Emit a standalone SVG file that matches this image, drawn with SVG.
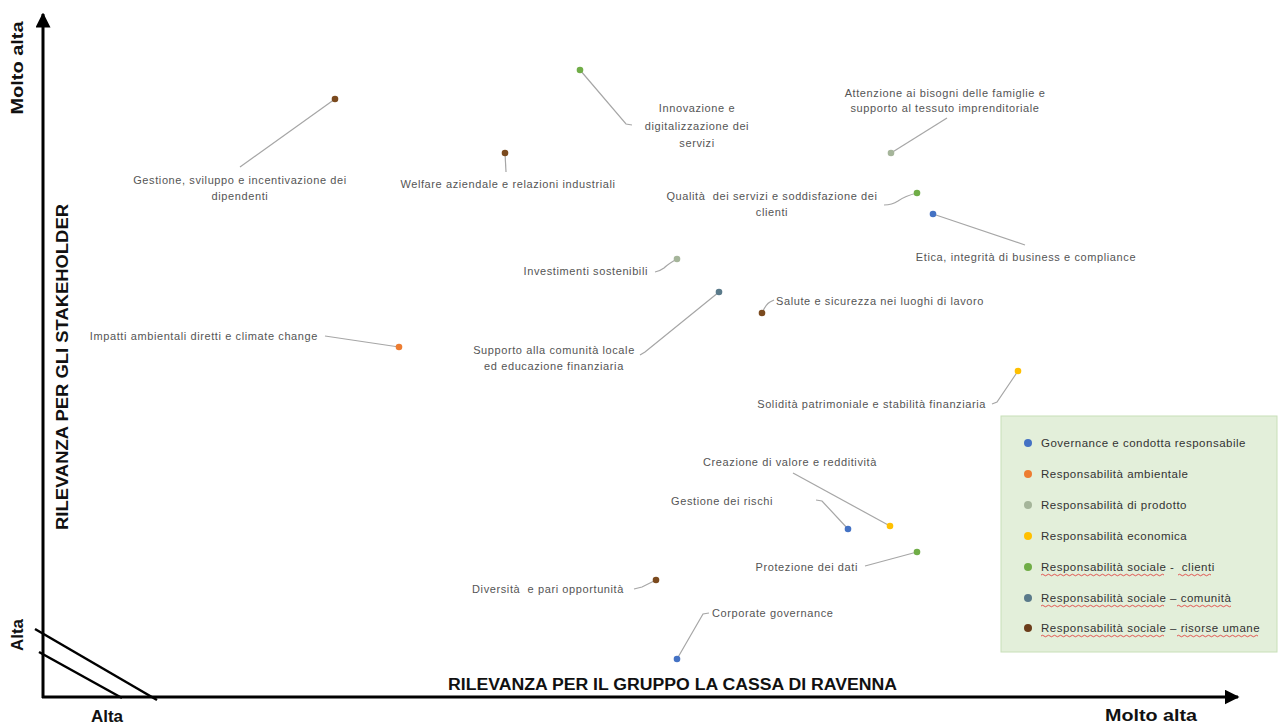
<svg xmlns="http://www.w3.org/2000/svg" width="1278" height="725" viewBox="0 0 1278 725">
<defs>
<marker id="arr" viewBox="0 0 10 10" refX="9" refY="5" markerWidth="5" markerHeight="5" orient="auto" markerUnits="strokeWidth">
<path d="M0,0 L10,5 L0,10 z" fill="#000"/>
</marker>
<style>
.lbl{font-family:"Liberation Sans",Arial,sans-serif;font-size:11px;letter-spacing:0.6px;fill:#555}
.ax{font-family:"Liberation Sans",Arial,sans-serif;font-weight:bold;fill:#111}
.conn line,.conn path{stroke:#a6a6a6;stroke-width:1.2;fill:none}
.leg{font-family:"Liberation Sans",Arial,sans-serif;font-size:11.5px;letter-spacing:0.5px;fill:#333}
.wavy{stroke:#e03030;stroke-width:0.8;fill:none}
</style>
</defs>
<rect width="1278" height="725" fill="#fff"/>

<!-- axes -->
<g id="axes" stroke="#000" stroke-width="3" fill="none">
<line x1="43" y1="698" x2="43" y2="14" marker-end="url(#arr)"/>
<line x1="42" y1="697" x2="1238" y2="697" marker-end="url(#arr)"/>
<line x1="35" y1="629" x2="157" y2="700" stroke-width="2.5"/>
<line x1="39" y1="652" x2="122" y2="698" stroke-width="2.5"/>
</g>
<text class="ax" font-size="17" transform="translate(23,68) rotate(-90)" text-anchor="middle" textLength="93" lengthAdjust="spacingAndGlyphs">Molto alta</text>
<text class="ax" font-size="17" transform="translate(23,635) rotate(-90)" text-anchor="middle">Alta</text>
<text class="ax" font-size="16" transform="translate(68,367) rotate(-90)" text-anchor="middle" textLength="326" lengthAdjust="spacingAndGlyphs">RILEVANZA PER GLI STAKEHOLDER</text>
<text class="ax" font-size="17" x="107" y="722" text-anchor="middle">Alta</text>
<text class="ax" font-size="17" x="1151" y="721" text-anchor="middle" textLength="92" lengthAdjust="spacingAndGlyphs">Molto alta</text>
<text class="ax" font-size="16" x="448" y="690" textLength="449" lengthAdjust="spacingAndGlyphs">RILEVANZA PER IL GRUPPO LA CASSA DI RAVENNA</text>

<!-- connectors -->
<g class="conn" id="connectors">
<line x1="335" y1="99" x2="240" y2="167"/>
<line x1="505" y1="153" x2="506" y2="172"/>
<path d="M580,70 L626,124 L632,125"/>
<line x1="891" y1="153" x2="947" y2="118"/>
<path d="M917,193 Q905,196 898,201 Q892,205 884,205"/>
<line x1="933" y1="214" x2="1025" y2="245"/>
<path d="M677,259 Q668,264 664,268 Q660,271 655,272"/>
<path d="M719,292 L645,352 L640,355"/>
<path d="M762,313 Q766,304 770,302 L774,300"/>
<line x1="325" y1="336" x2="399" y2="347"/>
<path d="M1018,371 L997,402 L992,404"/>
<line x1="890" y1="526" x2="793" y2="473"/>
<path d="M848,529 L822,501 L816,500"/>
<line x1="917" y1="552" x2="865" y2="566"/>
<path d="M656,580 Q648,584 642,587 L634,589"/>
<path d="M677,659 L703,614 L709,613"/>
</g>

<!-- nodes -->
<g id="n1"><circle cx="335" cy="99" r="3.3" fill="#7b4a1e"/>
<text class="lbl" x="240" y="184" text-anchor="middle">Gestione, sviluppo e incentivazione dei</text>
<text class="lbl" x="240" y="200" text-anchor="middle">dipendenti</text></g>
<g id="n2"><circle cx="505" cy="153" r="3.3" fill="#7b4a1e"/>
<text class="lbl" x="508" y="188" text-anchor="middle">Welfare aziendale e relazioni industriali</text></g>
<g id="n3"><circle cx="580" cy="70" r="3.3" fill="#70ad47"/>
<text class="lbl" x="697" y="112" text-anchor="middle">Innovazione e</text>
<text class="lbl" x="697" y="130" text-anchor="middle">digitalizzazione dei</text>
<text class="lbl" x="697" y="147" text-anchor="middle">servizi</text></g>
<g id="n4"><circle cx="891" cy="153" r="3.3" fill="#a5b59a"/>
<text class="lbl" x="945" y="97" text-anchor="middle">Attenzione ai bisogni delle famiglie e</text>
<text class="lbl" x="945" y="112" text-anchor="middle">supporto al tessuto imprenditoriale</text></g>
<g id="n5"><circle cx="917" cy="193" r="3.3" fill="#70ad47"/>
<text class="lbl" x="772" y="200" text-anchor="middle" xml:space="preserve">Qualità  dei servizi e soddisfazione dei</text>
<text class="lbl" x="772" y="216" text-anchor="middle">clienti</text></g>
<g id="n6"><circle cx="933" cy="214" r="3.3" fill="#4472c4"/>
<text class="lbl" x="1026" y="261" text-anchor="middle">Etica, integrità di business e compliance</text></g>
<g id="n7"><circle cx="677" cy="259" r="3.3" fill="#a5b59a"/>
<text class="lbl" x="648" y="275" text-anchor="end">Investimenti sostenibili</text></g>
<g id="n8"><circle cx="719" cy="292" r="3.3" fill="#5a7a8a"/>
<text class="lbl" x="554" y="354" text-anchor="middle">Supporto alla comunità locale</text>
<text class="lbl" x="554" y="370" text-anchor="middle">ed educazione finanziaria</text></g>
<g id="n9"><circle cx="762" cy="313" r="3.3" fill="#7b4a1e"/>
<text class="lbl" x="776" y="305">Salute e sicurezza nei luoghi di lavoro</text></g>
<g id="n10"><circle cx="399" cy="347" r="3.3" fill="#ed7d31"/>
<text class="lbl" x="318" y="340" text-anchor="end">Impatti ambientali diretti e climate change</text></g>
<g id="n11"><circle cx="1018" cy="371" r="3.3" fill="#ffc000"/>
<text class="lbl" x="986" y="408" text-anchor="end">Solidità patrimoniale e stabilità finanziaria</text></g>
<g id="n12"><circle cx="890" cy="526" r="3.3" fill="#ffc000"/>
<text class="lbl" x="790" y="466" text-anchor="middle">Creazione di valore e redditività</text></g>
<g id="n13"><circle cx="848" cy="529" r="3.3" fill="#4472c4"/>
<text class="lbl" x="773" y="505" text-anchor="end">Gestione dei rischi</text></g>
<g id="n14"><circle cx="917" cy="552" r="3.3" fill="#70ad47"/>
<text class="lbl" x="858" y="571" text-anchor="end">Protezione dei dati</text></g>
<g id="n15"><circle cx="656" cy="580" r="3.3" fill="#7b4a1e"/>
<text class="lbl" x="624" y="593" text-anchor="end" xml:space="preserve">Diversità  e pari opportunità</text></g>
<g id="n16"><circle cx="677" cy="659" r="3.3" fill="#4472c4"/>
<text class="lbl" x="712" y="617">Corporate governance</text></g>

<!-- legend -->
<g id="legend">
<rect x="1001" y="416" width="276" height="236" fill="#e3efda" stroke="#c8dfb8" stroke-width="1"/>
<circle cx="1028" cy="443" r="4" fill="#4472c4"/>
<text class="leg" x="1041" y="447">Governance e condotta responsabile</text>
<circle cx="1028" cy="474" r="4" fill="#ed7d31"/>
<text class="leg" x="1041" y="478">Responsabilità ambientale</text>
<circle cx="1028" cy="505" r="4" fill="#a5b59a"/>
<text class="leg" x="1041" y="509">Responsabilità di prodotto</text>
<circle cx="1028" cy="536" r="4" fill="#ffc000"/>
<text class="leg" x="1041" y="540">Responsabilità economica</text>
<circle cx="1028" cy="567" r="4" fill="#70ad47"/>
<text class="leg" x="1041" y="571" xml:space="preserve">Responsabilità sociale -  clienti</text>
<circle cx="1028" cy="598" r="4" fill="#5a7a8a"/>
<text class="leg" x="1041" y="602">Responsabilità sociale – comunità</text>
<circle cx="1028" cy="628" r="4" fill="#6b3d1a"/>
<text class="leg" x="1041" y="632">Responsabilità sociale – risorse umane</text>
<path class="wavy" d="M1041,575 q1.5,-1.5 3,0 t3,0 t3,0 t3,0 t3,0 t3,0 t3,0 t3,0 t3,0 t3,0 t3,0 t3,0 t3,0 t3,0 t3,0 t3,0 t3,0 t3,0 t3,0 t3,0 t3,0 t3,0 t3,0 t3,0 t3,0 t3,0 t3,0 t3,0 t3,0 t3,0 t3,0 t3,0 t3,0 t3,0 t3,0 t3,0 t3,0 t3,0 t3,0 t3,0 t3,0"/>
<path class="wavy" d="M1178,575 q1.5,-1.5 3,0 t3,0 t3,0 t3,0 t3,0 t3,0 t3,0 t3,0 t3,0 t3,0 t3,0"/>
<path class="wavy" d="M1041,606 q1.5,-1.5 3,0 t3,0 t3,0 t3,0 t3,0 t3,0 t3,0 t3,0 t3,0 t3,0 t3,0 t3,0 t3,0 t3,0 t3,0 t3,0 t3,0 t3,0 t3,0 t3,0 t3,0 t3,0 t3,0 t3,0 t3,0 t3,0 t3,0 t3,0 t3,0 t3,0 t3,0 t3,0 t3,0 t3,0 t3,0 t3,0 t3,0 t3,0 t3,0 t3,0 t3,0"/>
<path class="wavy" d="M1177,606 q1.5,-1.5 3,0 t3,0 t3,0 t3,0 t3,0 t3,0 t3,0 t3,0 t3,0 t3,0 t3,0 t3,0 t3,0 t3,0 t3,0 t3,0 t3,0 t3,0"/>
<path class="wavy" d="M1041,636 q1.5,-1.5 3,0 t3,0 t3,0 t3,0 t3,0 t3,0 t3,0 t3,0 t3,0 t3,0 t3,0 t3,0 t3,0 t3,0 t3,0 t3,0 t3,0 t3,0 t3,0 t3,0 t3,0 t3,0 t3,0 t3,0 t3,0 t3,0 t3,0 t3,0 t3,0 t3,0 t3,0 t3,0 t3,0 t3,0 t3,0 t3,0 t3,0 t3,0 t3,0 t3,0 t3,0"/>
<path class="wavy" d="M1177,636 q1.5,-1.5 3,0 t3,0 t3,0 t3,0 t3,0 t3,0 t3,0 t3,0 t3,0 t3,0 t3,0 t3,0 t3,0 t3,0 t3,0 t3,0 t3,0 t3,0 t3,0 t3,0 t3,0 t3,0 t3,0 t3,0 t3,0 t3,0 t3,0"/>
</g>
</svg>
